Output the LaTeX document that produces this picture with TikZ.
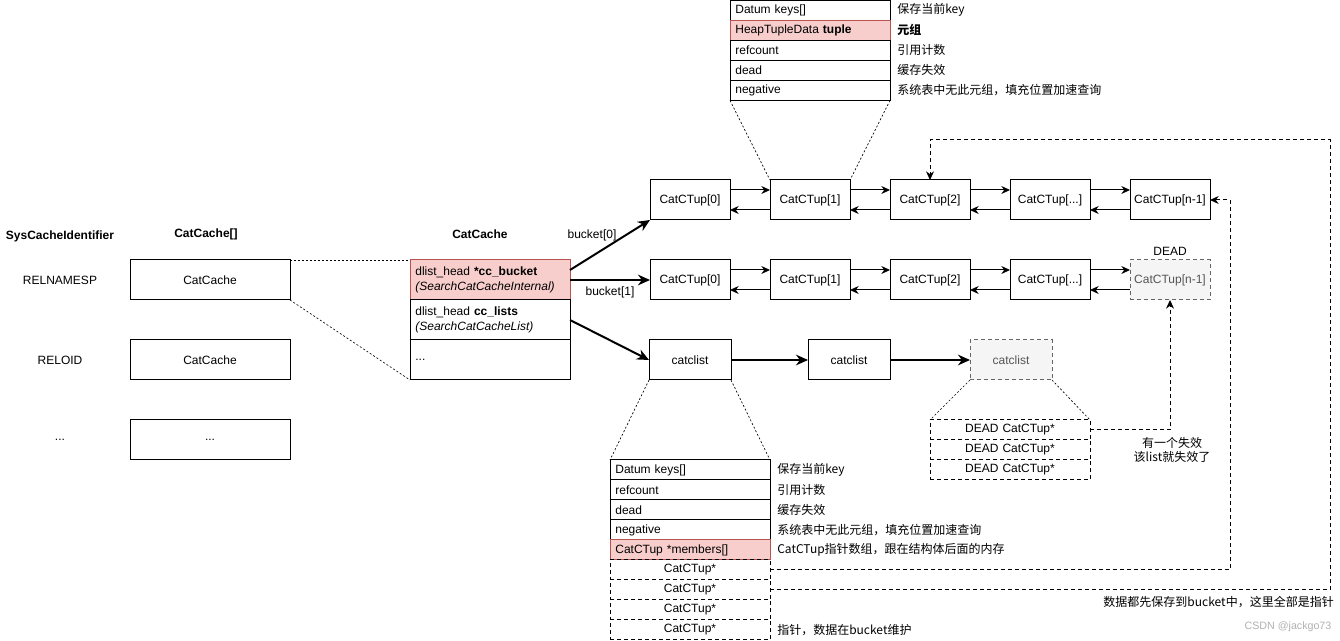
\documentclass[tikz,border=0pt]{standalone}
\usepackage{fontspec}
\setmainfont{Liberation Sans}
\newfontfamily\cjk{Noto Sans CJK SC}
\usepackage{tikz}
\usetikzlibrary{arrows.meta,positioning}
\definecolor{pinkfill}{HTML}{F8CECC}
\definecolor{pinkline}{HTML}{B85450}
\definecolor{deadfill}{HTML}{F5F5F5}
\definecolor{deadline}{HTML}{666666}
\definecolor{deadtext}{HTML}{555555}
\definecolor{wmk}{HTML}{B0B0B0}
\tikzset{
  cell/.style={draw=black, line width=0.75pt, minimum width=120pt, minimum height=15pt,
    inner xsep=4pt, inner ysep=0pt, outer sep=0pt, text width=112pt, align=left, font=\small},
  slot/.style={cell, align=center, dash pattern=on 3pt off 2.25pt},
  hot/.style={fill=pinkfill, draw=pinkline},
  tup/.style={draw=black, line width=0.75pt, minimum width=60pt, minimum height=30pt,
    inner sep=0pt, outer sep=0pt, font=\small},
  clist/.style={tup, minimum width=61.5pt},
  gone/.style={fill=deadfill, draw=deadline, text=deadtext, dash pattern=on 3pt off 2.25pt},
  lab/.style={font=\small, inner sep=0pt},
  head/.style={font=\small\bfseries, inner sep=0pt},
  note/.style={font=\small\cjk, inner sep=0pt, anchor=west},
  link/.style={-{Stealth[length=6.5pt,width=6pt]}, line width=0.75pt},
  bold/.style={-{Stealth[length=9pt,width=8pt]}, line width=1.5pt},
  zoomline/.style={line width=0.5pt, dash pattern=on 1.5pt off 1.5pt},
  ref/.style={-{Stealth[length=6.5pt,width=6pt]}, line width=0.75pt, dash pattern=on 3pt off 2.25pt},
}
\begin{document}
\begin{tikzpicture}[x=0.75pt,y=-0.75pt]
\useasboundingbox (0,0) rectangle (1340,641);

% left columns
\node[head] (hdrid) at (60,236) {SysCacheIdentifier};
\node[head] (hdrarr) at (206,234) {CatCache[]};
\node[head] (hdrcc) at (480,234) {CatCache};
\node[lab] (idrel) at (60,280) {RELNAMESP};
\node[lab] (idoid) at (60,360) {RELOID};
\node[lab] (iddots) at (60,440) {...};
\node[tup, minimum width=120pt] (arr0) at (210,280) {CatCache};
\node[tup, minimum width=120pt] (arr1) at (210,360) {CatCache};
\node[tup, minimum width=120pt] (arr2) at (210,440) {...};

% CatCache struct
\node[cell, hot, minimum height=30pt, anchor=north west] (ccbucket) at (410,260)
  {dlist\_head \textbf{*cc\_bucket}\\\textit{(SearchCatCacheInternal)}};
\node[cell, minimum height=30pt, below=0pt of ccbucket] (cclists)
  {dlist\_head \textbf{cc\_lists}\\\textit{(SearchCatCacheList)}};
\node[cell, minimum height=30pt, below=0pt of cclists] (ccdots) {...};
\draw[zoomline] (arr0.north east) -- (ccbucket.north west);
\draw[zoomline] (arr0.south east) -- (ccdots.south west);

% buckets
\node[tup] (b0t0) at (690,200) {CatCTup[0]};
\node[tup, right=30pt of b0t0] (b0t1) {CatCTup[1]};
\node[tup, right=30pt of b0t1] (b0t2) {CatCTup[2]};
\node[tup, right=30pt of b0t2] (b0t3) {CatCTup[...]};
\node[tup, right=30pt of b0t3] (b0t4) {CatCTup[n-1]};
\node[tup, below=30pt of b0t0] (b1t0) {CatCTup[0]};
\node[tup, right=30pt of b1t0] (b1t1) {CatCTup[1]};
\node[tup, right=30pt of b1t1] (b1t2) {CatCTup[2]};
\node[tup, right=30pt of b1t2] (b1t3) {CatCTup[...]};
\node[tup, gone, right=30pt of b1t3] (b1t4) {CatCTup[n-1]};
\node[lab] (deadlbl) at (1170,251) {DEAD};
\foreach \a/\b in {b0t0/b0t1,b0t1/b0t2,b0t2/b0t3,b0t3/b0t4,b1t0/b1t1,b1t1/b1t2,b1t2/b1t3,b1t3/b1t4} {
  \draw[link] ([yshift=7.5pt]\a.east) -- ([yshift=7.5pt]\b.west);
  \draw[link] ([yshift=-7.5pt]\b.west) -- ([yshift=-7.5pt]\a.east);
}
\draw[bold] ([yshift=7.5pt]ccbucket.east) -- (b0t0.south west);
\draw[bold] (ccbucket.east) -- (b1t0.west);
\node[lab] (lblb0) at (592,235) {bucket[0]};
\node[lab] (lblb1) at (610,292) {bucket[1]};

% top tuple fields
\node[cell, anchor=north west] (tupkeys) at (730,0.5) {Datum keys[]};
\node[cell, hot, below=0pt of tupkeys] (tuptuple) {HeapTupleData \textbf{tuple}};
\node[cell, below=0pt of tuptuple] (tuprefc) {refcount};
\node[cell, below=0pt of tuprefc] (tupdead) {dead};
\node[cell, below=0pt of tupdead] (tupneg) {negative};
\node[note] (ntkeys) at (897,10) {保存当前key};
\node[note, font=\small\cjk\bfseries] (nttuple) at (897,30) {元组};
\node[note] (ntrefc) at (897,50) {引用计数};
\node[note] (ntdead) at (897,70) {缓存失效};
\node[note] (ntneg) at (897,90) {系统表中无此元组，填充位置加速查询};
\draw[zoomline] (tupneg.south west) -- (b0t1.north west);
\draw[zoomline] (tupneg.south east) -- (b0t1.north east);

% cc_lists
\node[clist] (cl0) at (690,360) {catclist};
\node[clist] (cl1) at (849,360) {catclist};
\node[clist, gone] (cl2) at (1011,360) {catclist};
\draw[bold] (cclists.east) -- (cl0.west);
\draw[bold] (cl0) -- (cl1);
\draw[bold] (cl1) -- (cl2);

% catclist fields
\node[cell, anchor=north west] (lstkeys) at (610,460) {Datum keys[]};
\node[cell, below=0pt of lstkeys] (lstrefc) {refcount};
\node[cell, below=0pt of lstrefc] (lstdead) {dead};
\node[cell, below=0pt of lstdead] (lstneg) {negative};
\node[cell, hot, below=0pt of lstneg] (lstmem) {CatCTup *members[]};
\node[slot, below=0pt of lstmem] (lstp1) {CatCTup*};
\node[slot, below=0pt of lstp1] (lstp2) {CatCTup*};
\node[slot, below=0pt of lstp2] (lstp3) {CatCTup*};
\node[slot, below=0pt of lstp3] (lstp4) {CatCTup*};
\node[note] (nlkeys) at (777,470) {保存当前key};
\node[note] (nlrefc) at (777,490) {引用计数};
\node[note] (nldead) at (777,510) {缓存失效};
\node[note] (nlneg) at (777,530) {系统表中无此元组，填充位置加速查询};
\node[note] (nlmem) at (777,550) {CatCTup指针数组，跟在结构体后面的内存};
\node[note] (nlptr) at (777,630) {指针，数据在bucket维护};
\draw[zoomline] (cl0.south west) -- (lstkeys.north west);
\draw[zoomline] (cl0.south east) -- (lstkeys.north east);

% dead list
\node[slot, anchor=north west] (dead1) at (930,420) {DEAD CatCTup*};
\node[slot, below=0pt of dead1] (dead2) {DEAD CatCTup*};
\node[slot, below=0pt of dead2] (dead3) {DEAD CatCTup*};
\draw[zoomline] (cl2.south west) -- (dead1.north west);
\draw[zoomline] (cl2.south east) -- (dead1.north east);
\node[lab, font=\small\cjk, align=center] (ndead) at (1172,450) {有一个失效\\该list就失效了};

% pointers back into the buckets
\coordinate (farcorner) at (1330,140);
\draw[ref] (dead1.east) -| (b1t4.south);
\draw[ref] (lstp1.east) -| ([xshift=15pt]b0t4.east) -- (b0t4.east);
\draw[ref] (lstp2.east) -| (farcorner) -| (b0t2.north);
\node[note, anchor=east] (nall) at (1334,602) {数据都先保存到bucket中，这里全部是指针};
\node[lab, font=\footnotesize, text=wmk] (wm) at (1288,627) {CSDN @jackgo73};
\end{tikzpicture}
\end{document}
